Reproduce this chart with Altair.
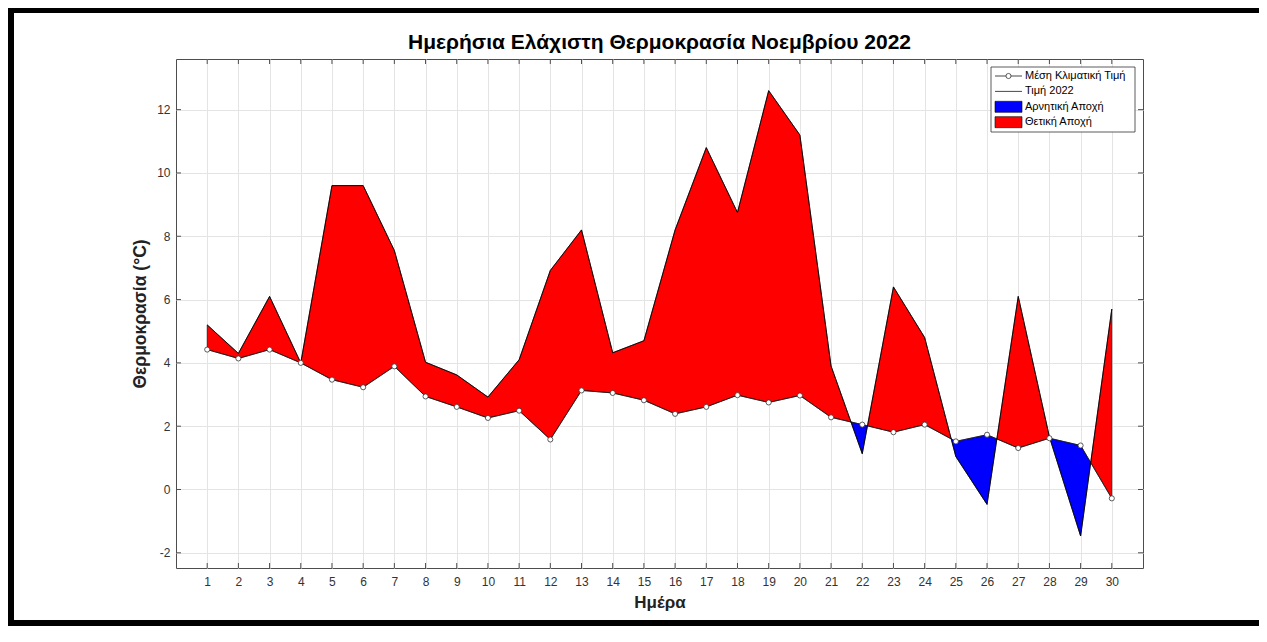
import altair as alt
import pandas as pd

# ---------------- data ----------------
days = list(range(1, 31))
clim_mean = [4.42, 4.14, 4.42, 4.00, 3.47, 3.23, 3.89, 2.94, 2.61, 2.26,
             2.49, 1.58, 3.13, 3.05, 2.82, 2.39, 2.61, 2.98, 2.75, 2.97,
             2.28, 2.05, 1.81, 2.05, 1.52, 1.73, 1.31, 1.62, 1.39, -0.28]
tmin_2022 = [5.20, 4.30, 6.10, 4.00, 9.60, 9.60, 7.55, 4.02, 3.62, 2.92,
             4.10, 6.92, 8.20, 4.32, 4.70, 8.20, 10.80, 8.75, 12.60, 11.20,
             3.90, 1.13, 6.40, 4.80, 1.04, -0.47, 6.10, 1.66, -1.47, 5.70]
y_ticks = [-2, 0, 2, 4, 6, 8, 10, 12]
legend_labels = ["Μέση Κλιματική Τιμή", "Τιμή 2022", "Αρνητική Αποχή", "Θετική Αποχή"]
sign_labels = ["Αρνητική Αποχή", "Θετική Αποχή"]
sign_colors = ["#0000ff", "#ff0000"]

title_text = "Ημερήσια Ελάχιστη Θερμοκρασία Νοεμβρίου 2022"
x_title = "Ημέρα"
y_title = "Θερμοκρασία (°C)"

# ---------------- anomaly polygons (split where the curves cross) ----------------
runs = []
cur = [(days[0], clim_mean[0], tmin_2022[0])]
for i in range(len(days) - 1):
    d0 = tmin_2022[i] - clim_mean[i]
    d1 = tmin_2022[i + 1] - clim_mean[i + 1]
    if d0 * d1 < 0:
        t = d0 / (d0 - d1)
        xc = days[i] + t * (days[i + 1] - days[i])
        yc = clim_mean[i] + t * (clim_mean[i + 1] - clim_mean[i])
        cur.append((xc, yc, yc))
        runs.append(cur)
        cur = [(xc, yc, yc)]
    cur.append((days[i + 1], clim_mean[i + 1], tmin_2022[i + 1]))
runs.append(cur)

area_rows = []
for k, run in enumerate(runs):
    s = sum(v - m for _, m, v in run)
    lab = sign_labels[1] if s > 0 else sign_labels[0]
    for (x, m, v) in run:
        area_rows.append({"day": x, "lo": m, "hi": v, "run": f"r{k:02d}", "sign": lab})
area_df = pd.DataFrame(area_rows)

mean_df = pd.DataFrame({"day": days, "temp": clim_mean})
val_df = pd.DataFrame({"day": days, "temp": tmin_2022})
tick_x_df = pd.DataFrame({"day": days})
tick_y_df = pd.DataFrame({"temp": y_ticks})

W, H = 967, 509
FONT = "Liberation Sans"

xscale = alt.Scale(domain=[0, 31], nice=False, zero=False)
yscale = alt.Scale(domain=[-2.48, 13.6], nice=False, zero=False)
xaxis = alt.Axis(values=days, grid=True, gridColor="#e4e4e4", tickSize=0, domain=False,
                 labelPadding=8, labelFontSize=12, labelColor="#333333", labelFont=FONT,
                 titleFont=FONT, titleFontSize=17, titleFontWeight="bold", titleColor="#222222",
                 titlePadding=7)
yaxis = alt.Axis(values=y_ticks, grid=True, gridColor="#e4e4e4", tickSize=0, domain=False,
                 labelPadding=6, labelFontSize=12, labelColor="#333333", labelFont=FONT,
                 labelExpr="replace(datum.label, '\u2212', '-')",
                 titleFont=FONT, titleFontSize=17.5, titleFontWeight="bold", titleColor="#222222",
                 titlePadding=7)


def X(field="day"):
    return alt.X(f"{field}:Q", scale=xscale, axis=xaxis, title=x_title)


def Y(field="temp"):
    return alt.Y(f"{field}:Q", scale=yscale, axis=yaxis, title=y_title, stack=None)


area = alt.Chart(area_df).mark_area(stroke="#000000", strokeWidth=0.6, opacity=1,
                                    fillOpacity=1, interpolate="linear").encode(
    x=X(),
    y=Y("lo"),
    y2="hi:Q",
    detail="run:N",
    fill=alt.Fill("sign:N", scale=alt.Scale(domain=sign_labels, range=sign_colors), legend=None),
)

mean_line = alt.Chart(mean_df).mark_line(color="#1a1a1a", strokeWidth=0.8).encode(x=X(), y=Y())
mean_pts = alt.Chart(mean_df).mark_point(shape="circle", size=26, filled=False, fill="white",
                                          stroke="#333333", strokeWidth=0.8, opacity=1).encode(x=X(), y=Y())
val_line = alt.Chart(val_df).mark_line(color="#000000", strokeWidth=0.8).encode(x=X(), y=Y())

tick_col = "#4d4d4d"
tx_bot = alt.Chart(tick_x_df).mark_rule(color=tick_col, strokeWidth=1).encode(
    x=X(), y=alt.value(H), y2=alt.value(H - 5))
tx_top = alt.Chart(tick_x_df).mark_rule(color=tick_col, strokeWidth=1).encode(
    x=X(), y=alt.value(0), y2=alt.value(5))
ty_left = alt.Chart(tick_y_df).mark_rule(color=tick_col, strokeWidth=1).encode(
    y=Y(), x=alt.value(0), x2=alt.value(5))
ty_right = alt.Chart(tick_y_df).mark_rule(color=tick_col, strokeWidth=1).encode(
    y=Y(), x=alt.value(W), x2=alt.value(W - 5))

# ---------------- legend (drawn inside the plot, top-right) ----------------
leg_df = pd.DataFrame({"label": legend_labels, "row": list(range(4))})
leg_df["ly"] = 17 + 15.4 * leg_df["row"]
one = pd.DataFrame({"a": [0]})
LX0, LX1 = 815, 959
box = alt.Chart(one).mark_rect(fill="white", stroke="#333333", strokeWidth=0.8).encode(
    x=alt.value(LX0), x2=alt.value(LX1), y=alt.value(8), y2=alt.value(73))
leg_text = alt.Chart(leg_df).mark_text(align="left", baseline="middle", font=FONT,
                                       fontSize=11, color="#000000").encode(
    x=alt.value(849), y=alt.Y("ly:Q", scale=None, axis=None), text="label:N")
leg_lines = alt.Chart(leg_df[leg_df["row"] < 2]).mark_rule(color="#1a1a1a", strokeWidth=0.8).encode(
    x=alt.value(819), x2=alt.value(846), y=alt.Y("ly:Q", scale=None, axis=None))
leg_circ = alt.Chart(leg_df[leg_df["row"] == 0]).mark_point(
    shape="circle", size=26, filled=False, fill="white", stroke="#333333",
    strokeWidth=0.8, opacity=1).encode(x=alt.value(832.5), y=alt.Y("ly:Q", scale=None, axis=None))
leg_patch_df = leg_df[leg_df["row"] >= 2].copy()
leg_patch_df["sign"] = sign_labels
leg_patch_df["ly0"] = leg_patch_df["ly"] - 5.5
leg_patch_df["ly1"] = leg_patch_df["ly"] + 5.5
leg_patch = alt.Chart(leg_patch_df).mark_rect(stroke="#000000", strokeWidth=0.6).encode(
    x=alt.value(819), x2=alt.value(846),
    y=alt.Y("ly0:Q", scale=None, axis=None), y2="ly1:Q",
    fill=alt.Fill("sign:N", scale=alt.Scale(domain=sign_labels, range=sign_colors), legend=None))

# ---------------- title as a text mark above the plot ----------------
title_df = pd.DataFrame({"t": [title_text]})
title = alt.Chart(title_df).mark_text(font=FONT, fontSize=21, fontWeight="bold", color="#000000",
                                      align="center", baseline="middle").encode(
    x=alt.value(W / 2), y=alt.value(-16), text="t:N")

# ---------------- black frame around the figure ----------------
frame_left = alt.Chart(one).mark_rect(color="#000000").encode(
    x=alt.value(-168), x2=alt.value(-162), y=alt.value(-51), y2=alt.value(H + 58))
frame_top = alt.Chart(one).mark_rect(color="#000000").encode(
    x=alt.value(-168), x2=alt.value(W + 116), y=alt.value(-51), y2=alt.value(-46))
frame_bot = alt.Chart(one).mark_rect(color="#000000").encode(
    x=alt.value(-168), x2=alt.value(W + 116), y=alt.value(H + 52), y2=alt.value(H + 58))

chart = alt.layer(
    area, mean_line, val_line, mean_pts,
    tx_bot, tx_top, ty_left, ty_right,
    box, leg_lines, leg_circ, leg_patch, leg_text,
    title, frame_left, frame_top, frame_bot,
).properties(
    width=W, height=H,
    autosize=alt.AutoSizeParams(type="none"),
    padding={"left": 168, "top": 51, "right": 116, "bottom": 58},
).configure_view(stroke="#4d4d4d", strokeWidth=1)

chart.save("out.html", embed_options={"renderer": "svg", "actions": False})
